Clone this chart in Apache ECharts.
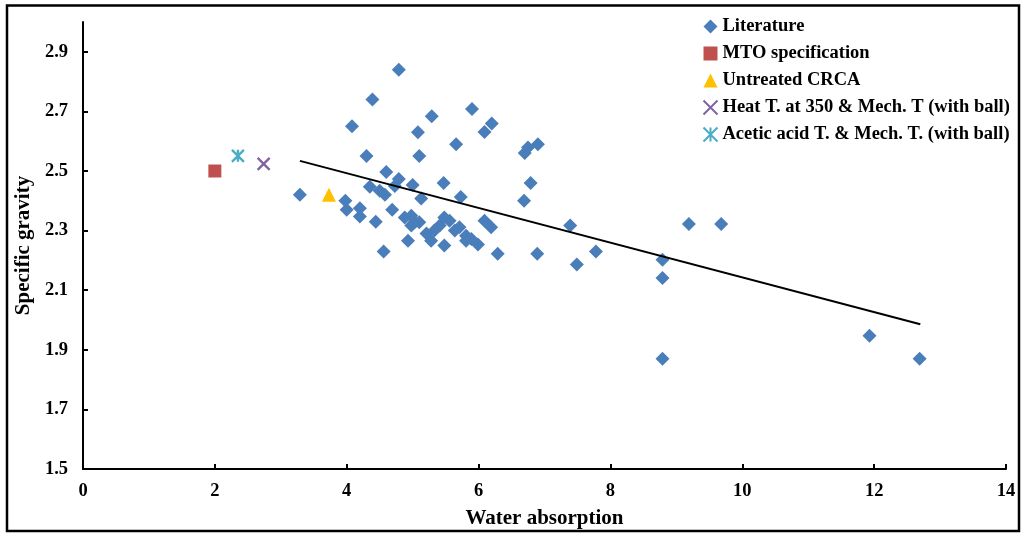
<!DOCTYPE html>
<html>
<head>
<meta charset="utf-8">
<script src="https://cdn.jsdelivr.net/npm/echarts@6/dist/echarts.min.js"></script>
<style>
html,body{margin:0;padding:0;background:#fff;}
#c{width:1025px;height:536px;}
</style>
</head>
<body>
<div id="c"></div>
<script>
// ---- data ----
const litX = [3.29,3.98,4.0,4.2,4.2,4.08,4.30,4.39,4.44,4.35,4.5,4.58,4.6,4.56,4.69,4.79,4.73,4.79,4.88,4.93,4.98,4.98,5.0,5.03,5.1,5.08,5.1,5.13,5.21,5.28,5.29,5.33,5.41,5.47,5.48,5.56,5.48,5.64,5.71,5.66,5.73,5.81,5.81,5.89,5.99,5.9,6.09,6.19,6.09,6.2,6.29,6.70,6.75,6.90,6.69,6.79,6.89,7.39,7.49,7.78,9.19,9.68,8.79,8.79,8.79,11.93,12.69];
const litY = [2.42,2.40,2.37,2.375,2.347,2.65,2.55,2.74,2.33,2.447,2.434,2.42,2.497,2.23,2.37,2.473,2.45,2.84,2.344,2.266,2.35,2.317,2.453,2.328,2.328,2.63,2.55,2.408,2.29,2.266,2.684,2.30,2.317,2.46,2.344,2.333,2.25,2.30,2.311,2.59,2.413,2.283,2.266,2.272,2.253,2.708,2.333,2.311,2.631,2.659,2.222,2.56,2.579,2.59,2.40,2.46,2.222,2.317,2.186,2.23,2.322,2.322,2.202,2.141,1.870,1.947,1.870];
const mtoPt = [2.0, 2.50];
const untreatedPt = [3.73, 2.42];
const heatPt = [2.74, 2.524];
const aceticPt = [2.35, 2.551];
const trendX = [3.29, 12.70];
const trendY = [2.534, 1.986];
const yTickLabels = [1.5, 1.7, 1.9, 2.1, 2.3, 2.5, 2.7, 2.9];
const xTickLabels = [0, 2, 4, 6, 8, 10, 12, 14];
const seriesNames = ['Literature','MTO specification','Untreated CRCA','Heat T. at 350 & Mech. T (with ball)','Acetic acid T. & Mech. T. (with ball)'];

const FONT = '"Liberation Serif", "Times New Roman", serif';
const xPath = 'path://M0,0L10,10M10,0L0,10';
const starPath = 'path://M0,0L10,10M10,0L0,10M5,0L5,10';

const chart = echarts.init(document.getElementById('c'), null, {renderer:'canvas'});
chart.setOption({
  animation: false,
  backgroundColor: '#fff',
  graphic: [{
    type: 'rect', shape: {x: 7, y: 5.5, width: 1012, height: 525.5},
    style: {fill: 'none', stroke: '#000', lineWidth: 2.5}, silent: true, z: 100
  }],
  grid: {left: 83, right: 19, top: 22, bottom: 67},
  legend: {
    orient: 'vertical', left: 696, top: 12, itemGap: 8,
    itemWidth: 14, itemHeight: 14,
    textStyle: {fontFamily: FONT, fontWeight: 'bold', fontSize: 18.5, color: '#000', padding: [0,0,0,0]},
    data: seriesNames
  },
  xAxis: {
    type: 'value', min: xTickLabels[0], max: xTickLabels[xTickLabels.length-1], interval: 2,
    name: 'Water absorption', nameLocation: 'middle', nameGap: 39,
    nameTextStyle: {fontFamily: FONT, fontWeight: 'bold', fontSize: 21, color: '#000'},
    axisLine: {show: true, lineStyle: {color: '#000', width: 2}},
    axisTick: {show: true, inside: true, length: 5, lineStyle: {color: '#000', width: 2}},
    axisLabel: {fontFamily: FONT, fontWeight: 'bold', fontSize: 18.5, color: '#000', margin: 13},
    splitLine: {show: false}
  },
  yAxis: {
    type: 'value', min: 1.5, max: 3.0,
    name: 'Specific gravity', nameLocation: 'middle', nameGap: 49,
    nameTextStyle: {fontFamily: FONT, fontWeight: 'bold', fontSize: 21, color: '#000'},
    axisLine: {show: true, lineStyle: {color: '#000', width: 2}},
    axisTick: {show: true, inside: true, length: 5, customValues: yTickLabels, lineStyle: {color: '#000', width: 2}},
    axisLabel: {fontFamily: FONT, fontWeight: 'bold', fontSize: 18.5, color: '#000', margin: 15,
      customValues: yTickLabels, formatter: v => Number(v).toFixed(1)},
    splitLine: {show: false}
  },
  series: [
    {name: seriesNames[0], type: 'scatter', symbol: 'diamond', symbolSize: 14,
     itemStyle: {color: '#4A7EBB', opacity: 1}, data: litX.map((x,i)=>[x, litY[i]]), z: 3},
    {name: seriesNames[1], type: 'scatter', symbol: 'rect', symbolSize: 13,
     itemStyle: {color: '#C0504D', opacity: 1}, data: [mtoPt], z: 3},
    {name: seriesNames[2], type: 'scatter', symbol: 'triangle', symbolSize: 14,
     itemStyle: {color: '#FFC000', opacity: 1}, data: [untreatedPt], z: 3},
    {name: seriesNames[3], type: 'scatter', symbol: xPath, symbolSize: 12,
     itemStyle: {color: 'none', borderColor: '#8064A2', borderWidth: 2.4, opacity: 1}, data: [heatPt], z: 3},
    {name: seriesNames[4], type: 'scatter', symbol: starPath, symbolSize: 12,
     itemStyle: {color: 'none', borderColor: '#4BACC6', borderWidth: 2.4, opacity: 1}, data: [aceticPt], z: 3},
    {name: 'trend', type: 'line', symbol: 'none', silent: true,
     lineStyle: {color: '#000', width: 2}, data: trendX.map((x,i)=>[x, trendY[i]]), z: 4}
  ]
});
</script>
</body>
</html>
